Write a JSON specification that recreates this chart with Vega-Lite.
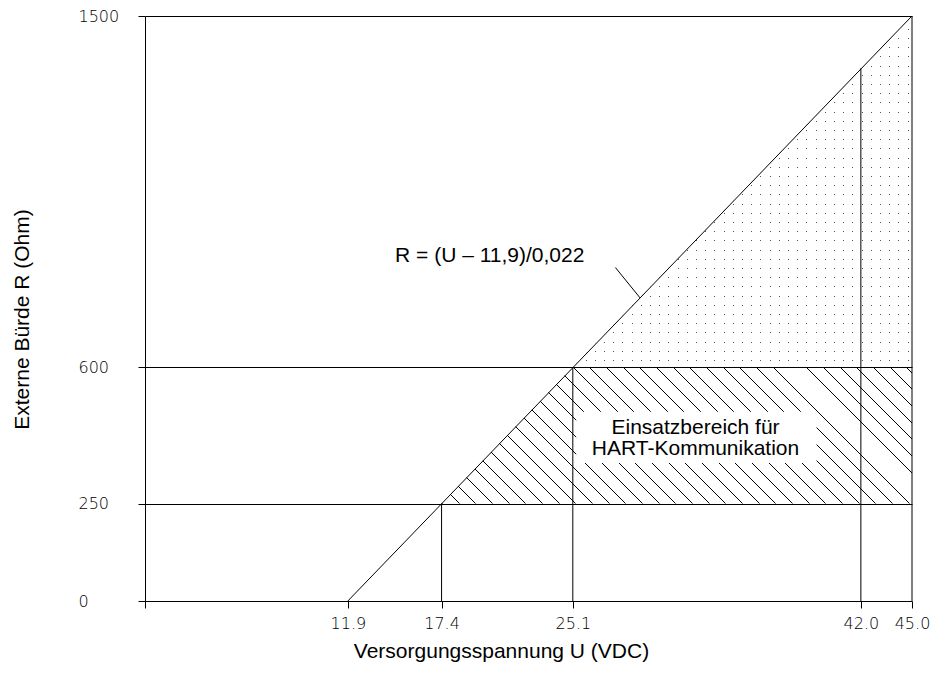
{
 "$schema": "https://vega.github.io/schema/vega-lite/v6.json",
 "width": 767,
 "height": 585,
 "autosize": "none",
 "padding": {"left": 145, "top": 16, "right": 25, "bottom": 83},
 "background": "white",
 "config": {"view": {"stroke": null}, "font": "Liberation Sans"},
 "datasets": {
  "dots": [{"R": 600, "U": 25.1, "U2": 45}, {"R": 1500, "U": 45, "U2": 45}],
  "hatch": [{"R": 250, "U": 17.4, "U2": 45}, {"R": 600, "U": 25.1, "U2": 45}],
  "box": [{"U": 25.3, "U2": 39.4, "R": 354, "R2": 485}],
  "vlines": [{"U": 17.4, "R": 0, "R2": 250}, {"U": 25.1, "R": 0, "R2": 600}, {"U": 42.0, "R": 0, "R2": 1366}, {"U": 45.0, "R": 0, "R2": 1500}],
  "segs": [{"U": 11.9, "R": 0, "U2": 45, "R2": 1500}, {"U": 27.6, "R": 855, "U2": 29.05, "R2": 777}],
  "formula": [{"U": 14.67, "R": 885, "text": "R = (U – 11,9)/0,022"}],
  "region": [{"U": 32.3, "R": 443, "text": "Einsatzbereich für\nHART-Kommunikation"}]
 },
 "encoding": {
  "y": {"field": "R", "type": "quantitative", "scale": {"domain": [0, 1500], "nice": false},
   "axis": {"values": [0, 250, 600, 1500], "format": "d", "tickSize": 7, "tickColor": "black", "domain": true, "domainColor": "black", "grid": true, "gridColor": "black", "gridOpacity": 1, "gridWidth": 1, "labelAlign": "left", "labelPadding": 60, "labelBaseline": "middle", "labelFont": "DejaVu Sans", "labelFontSize": 16, "labelFontWeight": 200, "labelColor": "black", "title": "Externe Bürde R (Ohm)", "titleFont": "Liberation Sans", "titleFontSize": 21, "titleFontWeight": "normal", "titleColor": "black", "titleAngle": 270, "titleX": -123, "titleY": 303, "titleAlign": "center", "titleBaseline": "middle", "zindex": 1}},
  "x": {"field": "U", "type": "quantitative", "scale": {"domain": [0, 45], "nice": false},
   "axis": {"values": [0, 11.9, 17.4, 25.1, 42, 45], "format": ".1f", "labelExpr": "datum.value == 0 ? '' : datum.label", "tickSize": 7, "tickColor": "black", "domain": false, "grid": false, "labelFont": "DejaVu Sans", "labelFontSize": 16, "labelFontWeight": 200, "labelColor": "black", "labelPadding": 7, "labelOverlap": false, "labelFlush": false, "title": "Versorgungsspannung U (VDC)", "titleFont": "Liberation Sans", "titleFontSize": 21, "titleFontWeight": "normal", "titleColor": "black", "titleX": 356, "titleY": 50, "titleAlign": "center", "titleBaseline": "middle", "zindex": 1}}
 },
 "layer": [
  {
   "data": {"name": "dots"},
   "mark": {"type": "area", "orient": "horizontal", "fill": {"gradient": "linear", "x1": 0, "y1": 0, "x2": 1, "y2": 0, "stops": [
    {"offset": 0, "color": "white"},
    {"offset": 0.01032, "color": "white"}, {"offset": 0.01032, "color": "#555"}, {"offset": 0.01327, "color": "#555"}, {"offset": 0.01327, "color": "white"},
    {"offset": 0.03744, "color": "white"}, {"offset": 0.03744, "color": "#555"}, {"offset": 0.04039, "color": "#555"}, {"offset": 0.04039, "color": "white"},
    {"offset": 0.06457, "color": "white"}, {"offset": 0.06457, "color": "#555"}, {"offset": 0.06752, "color": "#555"}, {"offset": 0.06752, "color": "white"},
    {"offset": 0.09169, "color": "white"}, {"offset": 0.09169, "color": "#555"}, {"offset": 0.09464, "color": "#555"}, {"offset": 0.09464, "color": "white"},
    {"offset": 0.11882, "color": "white"}, {"offset": 0.11882, "color": "#555"}, {"offset": 0.12177, "color": "#555"}, {"offset": 0.12177, "color": "white"},
    {"offset": 0.14594, "color": "white"}, {"offset": 0.14594, "color": "#555"}, {"offset": 0.14889, "color": "#555"}, {"offset": 0.14889, "color": "white"},
    {"offset": 0.17306, "color": "white"}, {"offset": 0.17306, "color": "#555"}, {"offset": 0.17601, "color": "#555"}, {"offset": 0.17601, "color": "white"},
    {"offset": 0.20019, "color": "white"}, {"offset": 0.20019, "color": "#555"}, {"offset": 0.20314, "color": "#555"}, {"offset": 0.20314, "color": "white"},
    {"offset": 0.22731, "color": "white"}, {"offset": 0.22731, "color": "#555"}, {"offset": 0.23026, "color": "#555"}, {"offset": 0.23026, "color": "white"},
    {"offset": 0.25443, "color": "white"}, {"offset": 0.25443, "color": "#555"}, {"offset": 0.25738, "color": "#555"}, {"offset": 0.25738, "color": "white"},
    {"offset": 0.28156, "color": "white"}, {"offset": 0.28156, "color": "#555"}, {"offset": 0.28451, "color": "#555"}, {"offset": 0.28451, "color": "white"},
    {"offset": 0.30868, "color": "white"}, {"offset": 0.30868, "color": "#555"}, {"offset": 0.31163, "color": "#555"}, {"offset": 0.31163, "color": "white"},
    {"offset": 0.33581, "color": "white"}, {"offset": 0.33581, "color": "#555"}, {"offset": 0.33876, "color": "#555"}, {"offset": 0.33876, "color": "white"},
    {"offset": 0.36293, "color": "white"}, {"offset": 0.36293, "color": "#555"}, {"offset": 0.36588, "color": "#555"}, {"offset": 0.36588, "color": "white"},
    {"offset": 0.39005, "color": "white"}, {"offset": 0.39005, "color": "#555"}, {"offset": 0.39300, "color": "#555"}, {"offset": 0.39300, "color": "white"},
    {"offset": 0.41718, "color": "white"}, {"offset": 0.41718, "color": "#555"}, {"offset": 0.42013, "color": "#555"}, {"offset": 0.42013, "color": "white"},
    {"offset": 0.44430, "color": "white"}, {"offset": 0.44430, "color": "#555"}, {"offset": 0.44725, "color": "#555"}, {"offset": 0.44725, "color": "white"},
    {"offset": 0.47143, "color": "white"}, {"offset": 0.47143, "color": "#555"}, {"offset": 0.47438, "color": "#555"}, {"offset": 0.47438, "color": "white"},
    {"offset": 0.49855, "color": "white"}, {"offset": 0.49855, "color": "#555"}, {"offset": 0.50150, "color": "#555"}, {"offset": 0.50150, "color": "white"},
    {"offset": 0.52567, "color": "white"}, {"offset": 0.52567, "color": "#555"}, {"offset": 0.52862, "color": "#555"}, {"offset": 0.52862, "color": "white"},
    {"offset": 0.55280, "color": "white"}, {"offset": 0.55280, "color": "#555"}, {"offset": 0.55575, "color": "#555"}, {"offset": 0.55575, "color": "white"},
    {"offset": 0.57992, "color": "white"}, {"offset": 0.57992, "color": "#555"}, {"offset": 0.58287, "color": "#555"}, {"offset": 0.58287, "color": "white"},
    {"offset": 0.60704, "color": "white"}, {"offset": 0.60704, "color": "#555"}, {"offset": 0.60999, "color": "#555"}, {"offset": 0.60999, "color": "white"},
    {"offset": 0.63417, "color": "white"}, {"offset": 0.63417, "color": "#555"}, {"offset": 0.63712, "color": "#555"}, {"offset": 0.63712, "color": "white"},
    {"offset": 0.66129, "color": "white"}, {"offset": 0.66129, "color": "#555"}, {"offset": 0.66424, "color": "#555"}, {"offset": 0.66424, "color": "white"},
    {"offset": 0.68842, "color": "white"}, {"offset": 0.68842, "color": "#555"}, {"offset": 0.69137, "color": "#555"}, {"offset": 0.69137, "color": "white"},
    {"offset": 0.71554, "color": "white"}, {"offset": 0.71554, "color": "#555"}, {"offset": 0.71849, "color": "#555"}, {"offset": 0.71849, "color": "white"},
    {"offset": 0.74266, "color": "white"}, {"offset": 0.74266, "color": "#555"}, {"offset": 0.74561, "color": "#555"}, {"offset": 0.74561, "color": "white"},
    {"offset": 0.76979, "color": "white"}, {"offset": 0.76979, "color": "#555"}, {"offset": 0.77274, "color": "#555"}, {"offset": 0.77274, "color": "white"},
    {"offset": 0.79691, "color": "white"}, {"offset": 0.79691, "color": "#555"}, {"offset": 0.79986, "color": "#555"}, {"offset": 0.79986, "color": "white"},
    {"offset": 0.82404, "color": "white"}, {"offset": 0.82404, "color": "#555"}, {"offset": 0.82699, "color": "#555"}, {"offset": 0.82699, "color": "white"},
    {"offset": 0.85116, "color": "white"}, {"offset": 0.85116, "color": "#555"}, {"offset": 0.85411, "color": "#555"}, {"offset": 0.85411, "color": "white"},
    {"offset": 0.87828, "color": "white"}, {"offset": 0.87828, "color": "#555"}, {"offset": 0.88123, "color": "#555"}, {"offset": 0.88123, "color": "white"},
    {"offset": 0.90541, "color": "white"}, {"offset": 0.90541, "color": "#555"}, {"offset": 0.90836, "color": "#555"}, {"offset": 0.90836, "color": "white"},
    {"offset": 0.93253, "color": "white"}, {"offset": 0.93253, "color": "#555"}, {"offset": 0.93548, "color": "#555"}, {"offset": 0.93548, "color": "white"},
    {"offset": 0.95965, "color": "white"}, {"offset": 0.95965, "color": "#555"}, {"offset": 0.96260, "color": "#555"}, {"offset": 0.96260, "color": "white"},
    {"offset": 0.98678, "color": "white"}, {"offset": 0.98678, "color": "#555"}, {"offset": 0.98973, "color": "#555"}, {"offset": 0.98973, "color": "white"},
    {"offset": 1, "color": "white"}
   ]}},
   "encoding": {"x2": {"field": "U2"}}
  },
  {
   "data": {"name": "dots"},
   "mark": {"type": "area", "orient": "horizontal", "fill": {"gradient": "linear", "x1": 0, "y1": 0, "x2": 0, "y2": 1, "stops": [
    {"offset": 0, "color": "white"},
    {"offset": 0.00997, "color": "white"}, {"offset": 0.00997, "color": "rgba(255,255,255,0)"}, {"offset": 0.01282, "color": "rgba(255,255,255,0)"}, {"offset": 0.01282, "color": "white"},
    {"offset": 0.03618, "color": "white"}, {"offset": 0.03618, "color": "rgba(255,255,255,0)"}, {"offset": 0.03903, "color": "rgba(255,255,255,0)"}, {"offset": 0.03903, "color": "white"},
    {"offset": 0.06239, "color": "white"}, {"offset": 0.06239, "color": "rgba(255,255,255,0)"}, {"offset": 0.06524, "color": "rgba(255,255,255,0)"}, {"offset": 0.06524, "color": "white"},
    {"offset": 0.08860, "color": "white"}, {"offset": 0.08860, "color": "rgba(255,255,255,0)"}, {"offset": 0.09145, "color": "rgba(255,255,255,0)"}, {"offset": 0.09145, "color": "white"},
    {"offset": 0.11481, "color": "white"}, {"offset": 0.11481, "color": "rgba(255,255,255,0)"}, {"offset": 0.11766, "color": "rgba(255,255,255,0)"}, {"offset": 0.11766, "color": "white"},
    {"offset": 0.14103, "color": "white"}, {"offset": 0.14103, "color": "rgba(255,255,255,0)"}, {"offset": 0.14388, "color": "rgba(255,255,255,0)"}, {"offset": 0.14388, "color": "white"},
    {"offset": 0.16724, "color": "white"}, {"offset": 0.16724, "color": "rgba(255,255,255,0)"}, {"offset": 0.17009, "color": "rgba(255,255,255,0)"}, {"offset": 0.17009, "color": "white"},
    {"offset": 0.19345, "color": "white"}, {"offset": 0.19345, "color": "rgba(255,255,255,0)"}, {"offset": 0.19630, "color": "rgba(255,255,255,0)"}, {"offset": 0.19630, "color": "white"},
    {"offset": 0.21966, "color": "white"}, {"offset": 0.21966, "color": "rgba(255,255,255,0)"}, {"offset": 0.22251, "color": "rgba(255,255,255,0)"}, {"offset": 0.22251, "color": "white"},
    {"offset": 0.24587, "color": "white"}, {"offset": 0.24587, "color": "rgba(255,255,255,0)"}, {"offset": 0.24872, "color": "rgba(255,255,255,0)"}, {"offset": 0.24872, "color": "white"},
    {"offset": 0.27208, "color": "white"}, {"offset": 0.27208, "color": "rgba(255,255,255,0)"}, {"offset": 0.27493, "color": "rgba(255,255,255,0)"}, {"offset": 0.27493, "color": "white"},
    {"offset": 0.29829, "color": "white"}, {"offset": 0.29829, "color": "rgba(255,255,255,0)"}, {"offset": 0.30114, "color": "rgba(255,255,255,0)"}, {"offset": 0.30114, "color": "white"},
    {"offset": 0.32450, "color": "white"}, {"offset": 0.32450, "color": "rgba(255,255,255,0)"}, {"offset": 0.32735, "color": "rgba(255,255,255,0)"}, {"offset": 0.32735, "color": "white"},
    {"offset": 0.35071, "color": "white"}, {"offset": 0.35071, "color": "rgba(255,255,255,0)"}, {"offset": 0.35356, "color": "rgba(255,255,255,0)"}, {"offset": 0.35356, "color": "white"},
    {"offset": 0.37693, "color": "white"}, {"offset": 0.37693, "color": "rgba(255,255,255,0)"}, {"offset": 0.37978, "color": "rgba(255,255,255,0)"}, {"offset": 0.37978, "color": "white"},
    {"offset": 0.40314, "color": "white"}, {"offset": 0.40314, "color": "rgba(255,255,255,0)"}, {"offset": 0.40599, "color": "rgba(255,255,255,0)"}, {"offset": 0.40599, "color": "white"},
    {"offset": 0.42935, "color": "white"}, {"offset": 0.42935, "color": "rgba(255,255,255,0)"}, {"offset": 0.43220, "color": "rgba(255,255,255,0)"}, {"offset": 0.43220, "color": "white"},
    {"offset": 0.45556, "color": "white"}, {"offset": 0.45556, "color": "rgba(255,255,255,0)"}, {"offset": 0.45841, "color": "rgba(255,255,255,0)"}, {"offset": 0.45841, "color": "white"},
    {"offset": 0.48177, "color": "white"}, {"offset": 0.48177, "color": "rgba(255,255,255,0)"}, {"offset": 0.48462, "color": "rgba(255,255,255,0)"}, {"offset": 0.48462, "color": "white"},
    {"offset": 0.50798, "color": "white"}, {"offset": 0.50798, "color": "rgba(255,255,255,0)"}, {"offset": 0.51083, "color": "rgba(255,255,255,0)"}, {"offset": 0.51083, "color": "white"},
    {"offset": 0.53419, "color": "white"}, {"offset": 0.53419, "color": "rgba(255,255,255,0)"}, {"offset": 0.53704, "color": "rgba(255,255,255,0)"}, {"offset": 0.53704, "color": "white"},
    {"offset": 0.56040, "color": "white"}, {"offset": 0.56040, "color": "rgba(255,255,255,0)"}, {"offset": 0.56325, "color": "rgba(255,255,255,0)"}, {"offset": 0.56325, "color": "white"},
    {"offset": 0.58661, "color": "white"}, {"offset": 0.58661, "color": "rgba(255,255,255,0)"}, {"offset": 0.58946, "color": "rgba(255,255,255,0)"}, {"offset": 0.58946, "color": "white"},
    {"offset": 0.61283, "color": "white"}, {"offset": 0.61283, "color": "rgba(255,255,255,0)"}, {"offset": 0.61568, "color": "rgba(255,255,255,0)"}, {"offset": 0.61568, "color": "white"},
    {"offset": 0.63904, "color": "white"}, {"offset": 0.63904, "color": "rgba(255,255,255,0)"}, {"offset": 0.64189, "color": "rgba(255,255,255,0)"}, {"offset": 0.64189, "color": "white"},
    {"offset": 0.66525, "color": "white"}, {"offset": 0.66525, "color": "rgba(255,255,255,0)"}, {"offset": 0.66810, "color": "rgba(255,255,255,0)"}, {"offset": 0.66810, "color": "white"},
    {"offset": 0.69146, "color": "white"}, {"offset": 0.69146, "color": "rgba(255,255,255,0)"}, {"offset": 0.69431, "color": "rgba(255,255,255,0)"}, {"offset": 0.69431, "color": "white"},
    {"offset": 0.71767, "color": "white"}, {"offset": 0.71767, "color": "rgba(255,255,255,0)"}, {"offset": 0.72052, "color": "rgba(255,255,255,0)"}, {"offset": 0.72052, "color": "white"},
    {"offset": 0.74388, "color": "white"}, {"offset": 0.74388, "color": "rgba(255,255,255,0)"}, {"offset": 0.74673, "color": "rgba(255,255,255,0)"}, {"offset": 0.74673, "color": "white"},
    {"offset": 0.77009, "color": "white"}, {"offset": 0.77009, "color": "rgba(255,255,255,0)"}, {"offset": 0.77294, "color": "rgba(255,255,255,0)"}, {"offset": 0.77294, "color": "white"},
    {"offset": 0.79630, "color": "white"}, {"offset": 0.79630, "color": "rgba(255,255,255,0)"}, {"offset": 0.79915, "color": "rgba(255,255,255,0)"}, {"offset": 0.79915, "color": "white"},
    {"offset": 0.82251, "color": "white"}, {"offset": 0.82251, "color": "rgba(255,255,255,0)"}, {"offset": 0.82536, "color": "rgba(255,255,255,0)"}, {"offset": 0.82536, "color": "white"},
    {"offset": 0.84873, "color": "white"}, {"offset": 0.84873, "color": "rgba(255,255,255,0)"}, {"offset": 0.85158, "color": "rgba(255,255,255,0)"}, {"offset": 0.85158, "color": "white"},
    {"offset": 0.87494, "color": "white"}, {"offset": 0.87494, "color": "rgba(255,255,255,0)"}, {"offset": 0.87779, "color": "rgba(255,255,255,0)"}, {"offset": 0.87779, "color": "white"},
    {"offset": 0.90115, "color": "white"}, {"offset": 0.90115, "color": "rgba(255,255,255,0)"}, {"offset": 0.90400, "color": "rgba(255,255,255,0)"}, {"offset": 0.90400, "color": "white"},
    {"offset": 0.92736, "color": "white"}, {"offset": 0.92736, "color": "rgba(255,255,255,0)"}, {"offset": 0.93021, "color": "rgba(255,255,255,0)"}, {"offset": 0.93021, "color": "white"},
    {"offset": 0.95357, "color": "white"}, {"offset": 0.95357, "color": "rgba(255,255,255,0)"}, {"offset": 0.95642, "color": "rgba(255,255,255,0)"}, {"offset": 0.95642, "color": "white"},
    {"offset": 0.97978, "color": "white"}, {"offset": 0.97978, "color": "rgba(255,255,255,0)"}, {"offset": 0.98263, "color": "rgba(255,255,255,0)"}, {"offset": 0.98263, "color": "white"},
    {"offset": 1, "color": "white"}
   ]}},
   "encoding": {"x2": {"field": "U2"}}
  },
  {
   "data": {"name": "hatch"},
   "mark": {"type": "area", "orient": "horizontal", "fill": {"gradient": "linear", "x1": 0, "y1": 1, "x2": 1.18996, "y2": 0.65472, "stops": [
    {"offset": 0, "color": "white"},
    {"offset": 0.00084, "color": "white"}, {"offset": 0.00084, "color": "black"}, {"offset": 0.00248, "color": "black"}, {"offset": 0.00248, "color": "white"},
    {"offset": 0.02831, "color": "white"}, {"offset": 0.02831, "color": "black"}, {"offset": 0.02995, "color": "black"}, {"offset": 0.02995, "color": "white"},
    {"offset": 0.05577, "color": "white"}, {"offset": 0.05577, "color": "black"}, {"offset": 0.05741, "color": "black"}, {"offset": 0.05741, "color": "white"},
    {"offset": 0.08324, "color": "white"}, {"offset": 0.08324, "color": "black"}, {"offset": 0.08488, "color": "black"}, {"offset": 0.08488, "color": "white"},
    {"offset": 0.11070, "color": "white"}, {"offset": 0.11070, "color": "black"}, {"offset": 0.11234, "color": "black"}, {"offset": 0.11234, "color": "white"},
    {"offset": 0.13817, "color": "white"}, {"offset": 0.13817, "color": "black"}, {"offset": 0.13981, "color": "black"}, {"offset": 0.13981, "color": "white"},
    {"offset": 0.16564, "color": "white"}, {"offset": 0.16564, "color": "black"}, {"offset": 0.16728, "color": "black"}, {"offset": 0.16728, "color": "white"},
    {"offset": 0.19310, "color": "white"}, {"offset": 0.19310, "color": "black"}, {"offset": 0.19474, "color": "black"}, {"offset": 0.19474, "color": "white"},
    {"offset": 0.22057, "color": "white"}, {"offset": 0.22057, "color": "black"}, {"offset": 0.22221, "color": "black"}, {"offset": 0.22221, "color": "white"},
    {"offset": 0.24803, "color": "white"}, {"offset": 0.24803, "color": "black"}, {"offset": 0.24967, "color": "black"}, {"offset": 0.24967, "color": "white"},
    {"offset": 0.27550, "color": "white"}, {"offset": 0.27550, "color": "black"}, {"offset": 0.27714, "color": "black"}, {"offset": 0.27714, "color": "white"},
    {"offset": 0.30297, "color": "white"}, {"offset": 0.30297, "color": "black"}, {"offset": 0.30461, "color": "black"}, {"offset": 0.30461, "color": "white"},
    {"offset": 0.33043, "color": "white"}, {"offset": 0.33043, "color": "black"}, {"offset": 0.33207, "color": "black"}, {"offset": 0.33207, "color": "white"},
    {"offset": 0.35790, "color": "white"}, {"offset": 0.35790, "color": "black"}, {"offset": 0.35954, "color": "black"}, {"offset": 0.35954, "color": "white"},
    {"offset": 0.38536, "color": "white"}, {"offset": 0.38536, "color": "black"}, {"offset": 0.38700, "color": "black"}, {"offset": 0.38700, "color": "white"},
    {"offset": 0.41283, "color": "white"}, {"offset": 0.41283, "color": "black"}, {"offset": 0.41447, "color": "black"}, {"offset": 0.41447, "color": "white"},
    {"offset": 0.44030, "color": "white"}, {"offset": 0.44030, "color": "black"}, {"offset": 0.44194, "color": "black"}, {"offset": 0.44194, "color": "white"},
    {"offset": 0.46776, "color": "white"}, {"offset": 0.46776, "color": "black"}, {"offset": 0.46940, "color": "black"}, {"offset": 0.46940, "color": "white"},
    {"offset": 0.49523, "color": "white"}, {"offset": 0.49523, "color": "black"}, {"offset": 0.49687, "color": "black"}, {"offset": 0.49687, "color": "white"},
    {"offset": 0.52269, "color": "white"}, {"offset": 0.52269, "color": "black"}, {"offset": 0.52433, "color": "black"}, {"offset": 0.52433, "color": "white"},
    {"offset": 0.55016, "color": "white"}, {"offset": 0.55016, "color": "black"}, {"offset": 0.55180, "color": "black"}, {"offset": 0.55180, "color": "white"},
    {"offset": 0.57763, "color": "white"}, {"offset": 0.57763, "color": "black"}, {"offset": 0.57927, "color": "black"}, {"offset": 0.57927, "color": "white"},
    {"offset": 0.60509, "color": "white"}, {"offset": 0.60509, "color": "black"}, {"offset": 0.60673, "color": "black"}, {"offset": 0.60673, "color": "white"},
    {"offset": 0.63256, "color": "white"}, {"offset": 0.63256, "color": "black"}, {"offset": 0.63420, "color": "black"}, {"offset": 0.63420, "color": "white"},
    {"offset": 0.66002, "color": "white"}, {"offset": 0.66002, "color": "black"}, {"offset": 0.66166, "color": "black"}, {"offset": 0.66166, "color": "white"},
    {"offset": 0.68749, "color": "white"}, {"offset": 0.68749, "color": "black"}, {"offset": 0.68913, "color": "black"}, {"offset": 0.68913, "color": "white"},
    {"offset": 0.71496, "color": "white"}, {"offset": 0.71496, "color": "black"}, {"offset": 0.71660, "color": "black"}, {"offset": 0.71660, "color": "white"},
    {"offset": 0.74242, "color": "white"}, {"offset": 0.74242, "color": "black"}, {"offset": 0.74406, "color": "black"}, {"offset": 0.74406, "color": "white"},
    {"offset": 0.76989, "color": "white"}, {"offset": 0.76989, "color": "black"}, {"offset": 0.77153, "color": "black"}, {"offset": 0.77153, "color": "white"},
    {"offset": 0.79735, "color": "white"}, {"offset": 0.79735, "color": "black"}, {"offset": 0.79899, "color": "black"}, {"offset": 0.79899, "color": "white"},
    {"offset": 0.82482, "color": "white"}, {"offset": 0.82482, "color": "black"}, {"offset": 0.82646, "color": "black"}, {"offset": 0.82646, "color": "white"},
    {"offset": 0.85229, "color": "white"}, {"offset": 0.85229, "color": "black"}, {"offset": 0.85393, "color": "black"}, {"offset": 0.85393, "color": "white"},
    {"offset": 0.87975, "color": "white"}, {"offset": 0.87975, "color": "black"}, {"offset": 0.88139, "color": "black"}, {"offset": 0.88139, "color": "white"},
    {"offset": 0.90722, "color": "white"}, {"offset": 0.90722, "color": "black"}, {"offset": 0.90886, "color": "black"}, {"offset": 0.90886, "color": "white"},
    {"offset": 0.93468, "color": "white"}, {"offset": 0.93468, "color": "black"}, {"offset": 0.93632, "color": "black"}, {"offset": 0.93632, "color": "white"},
    {"offset": 0.96215, "color": "white"}, {"offset": 0.96215, "color": "black"}, {"offset": 0.96379, "color": "black"}, {"offset": 0.96379, "color": "white"},
    {"offset": 0.98962, "color": "white"}, {"offset": 0.98962, "color": "black"}, {"offset": 0.99126, "color": "black"}, {"offset": 0.99126, "color": "white"},
    {"offset": 1, "color": "white"}
   ]}},
   "encoding": {"x2": {"field": "U2"}}
  },
  {
   "data": {"name": "box"},
   "mark": {"type": "rect", "fill": "white"},
   "encoding": {"x2": {"field": "U2"}, "y2": {"field": "R2"}}
  },
  {
   "data": {"name": "vlines"},
   "mark": {"type": "rule", "color": "black", "strokeWidth": 1},
   "encoding": {"y2": {"field": "R2"}}
  },
  {
   "data": {"name": "segs"},
   "mark": {"type": "rule", "color": "black", "strokeWidth": 1},
   "encoding": {"x2": {"field": "U2"}, "y2": {"field": "R2"}}
  },
  {
   "data": {"name": "formula"},
   "mark": {"type": "text", "align": "left", "baseline": "middle", "font": "Liberation Sans", "fontSize": 21, "color": "black"},
   "encoding": {"text": {"field": "text"}}
  },
  {
   "data": {"name": "region"},
   "mark": {"type": "text", "align": "center", "baseline": "middle", "font": "Liberation Sans", "fontSize": 21, "lineHeight": 21, "lineBreak": "\n", "color": "black"},
   "encoding": {"text": {"field": "text"}}
  }
 ]
}
